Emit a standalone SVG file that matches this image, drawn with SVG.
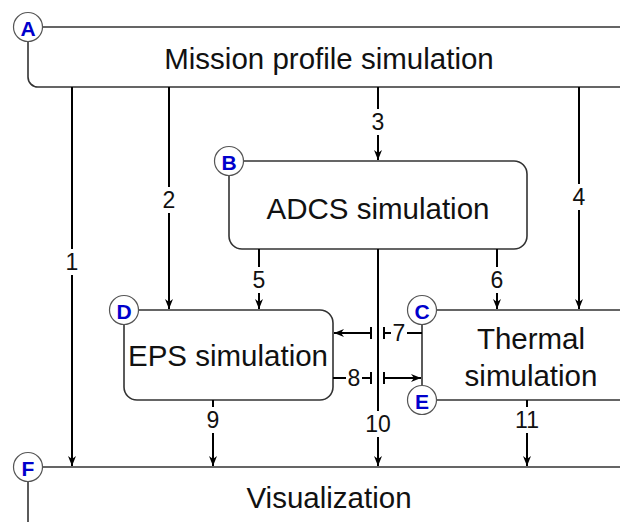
<svg xmlns="http://www.w3.org/2000/svg" width="620" height="522" viewBox="0 0 620 522">
<defs>
<marker id="ah" viewBox="0 0 10 10" refX="10" refY="5" markerWidth="10" markerHeight="10" markerUnits="userSpaceOnUse" orient="auto">
<path d="M0,1 L10,5 L0,9 L3,5 Z" fill="#000"/>
</marker>
<style>
.box{fill:#fff;stroke:#333;stroke-width:1.6}
.big{font-family:"Liberation Sans",Arial,sans-serif;font-size:29.5px;fill:#111;text-anchor:middle;dominant-baseline:central}
.badge circle{fill:#fff;stroke:#555;stroke-width:1.2}
.badge text{font-family:"Liberation Sans",Arial,sans-serif;font-weight:bold;font-size:21px;fill:#00c;text-anchor:middle;dominant-baseline:central}
.c{fill:none;stroke:#000;stroke-width:2}
.ca{fill:none;stroke:#000;stroke-width:2;marker-end:url(#ah)}
.lbl rect{fill:#fff}
.lbl text{font-family:"Liberation Sans",Arial,sans-serif;font-size:23px;fill:#111;text-anchor:middle;dominant-baseline:central}
</style>
</defs>
<rect width="620" height="522" fill="#fff"/>

<g id="nodeA">
<rect class="box" x="28" y="27" width="640" height="60" rx="10"/>
<text class="big" x="329" y="58">Mission profile simulation</text>
</g>
<g id="nodeB">
<rect class="box" x="229" y="161" width="298" height="88" rx="13"/>
<text class="big" x="378" y="208">ADCS simulation</text>
</g>
<g id="nodeD">
<rect class="box" x="124" y="310" width="209" height="90" rx="13"/>
<text class="big" x="228" y="355">EPS simulation</text>
</g>
<g id="nodeC">
<rect class="box" x="422" y="310" width="260" height="90" rx="10"/>
<text class="big" x="531" y="338">Thermal</text>
<text class="big" x="531" y="375">simulation</text>
</g>
<g id="nodeF">
<rect class="box" x="28" y="467" width="640" height="90" rx="10"/>
<text class="big" x="329" y="497">Visualization</text>
</g>

<g id="connectors">
<line class="ca" x1="72" y1="87" x2="72" y2="466"/>
<line class="ca" x1="169" y1="87" x2="169" y2="309"/>
<line class="ca" x1="378" y1="87" x2="378" y2="160"/>
<line class="ca" x1="579" y1="87" x2="579" y2="309"/>
<line class="ca" x1="259" y1="249" x2="259" y2="309"/>
<line class="ca" x1="497" y1="249" x2="497" y2="309"/>
<line class="ca" x1="378" y1="249" x2="378" y2="466"/>
<line class="ca" x1="213" y1="400" x2="213" y2="466"/>
<line class="ca" x1="527" y1="400" x2="527" y2="466"/>
<!-- 7 -->
<line class="c" x1="422" y1="333" x2="384" y2="333"/>
<line class="c" x1="384" y1="327" x2="384" y2="339"/>
<line class="c" x1="371" y1="327" x2="371" y2="339"/>
<line class="ca" x1="371" y1="333" x2="334" y2="333"/>
<!-- 8 -->
<line class="c" x1="333" y1="378" x2="371" y2="378"/>
<line class="c" x1="371" y1="372" x2="371" y2="384"/>
<line class="c" x1="384" y1="372" x2="384" y2="384"/>
<line class="ca" x1="384" y1="378" x2="421" y2="378"/>
</g>

<g id="labels" class="lbl">
<rect x="63" y="249" width="18" height="26"/><text x="72" y="262">1</text>
<rect x="160" y="187" width="18" height="26"/><text x="169" y="200">2</text>
<rect x="369" y="109" width="18" height="26"/><text x="378" y="122">3</text>
<rect x="570" y="184" width="18" height="26"/><text x="579" y="197">4</text>
<rect x="250" y="267" width="18" height="26"/><text x="259" y="280">5</text>
<rect x="488" y="267" width="18" height="26"/><text x="497" y="280">6</text>
<rect x="391" y="321" width="16" height="24"/><text x="399" y="333">7</text>
<rect x="346" y="366" width="16" height="24"/><text x="354" y="378">8</text>
<rect x="204" y="407" width="18" height="26"/><text x="213" y="420">9</text>
<rect x="364" y="411" width="28" height="26"/><text x="378" y="424">10</text>
<rect x="513" y="407" width="28" height="26"/><text x="527" y="420">11</text>
</g>

<g id="badges">
<g class="badge" id="badgeA"><circle cx="28" cy="27" r="14.5"/><text x="28" y="28">A</text></g>
<g class="badge" id="badgeB"><circle cx="229" cy="161" r="14.5"/><text x="229" y="162">B</text></g>
<g class="badge" id="badgeC"><circle cx="422" cy="310" r="14.5"/><text x="422" y="311">C</text></g>
<g class="badge" id="badgeD"><circle cx="124" cy="310" r="14.5"/><text x="124" y="311">D</text></g>
<g class="badge" id="badgeE"><circle cx="422" cy="400" r="14.5"/><text x="422" y="401">E</text></g>
<g class="badge" id="badgeF"><circle cx="28" cy="467" r="14.5"/><text x="28" y="468">F</text></g>
</g>
</svg>
